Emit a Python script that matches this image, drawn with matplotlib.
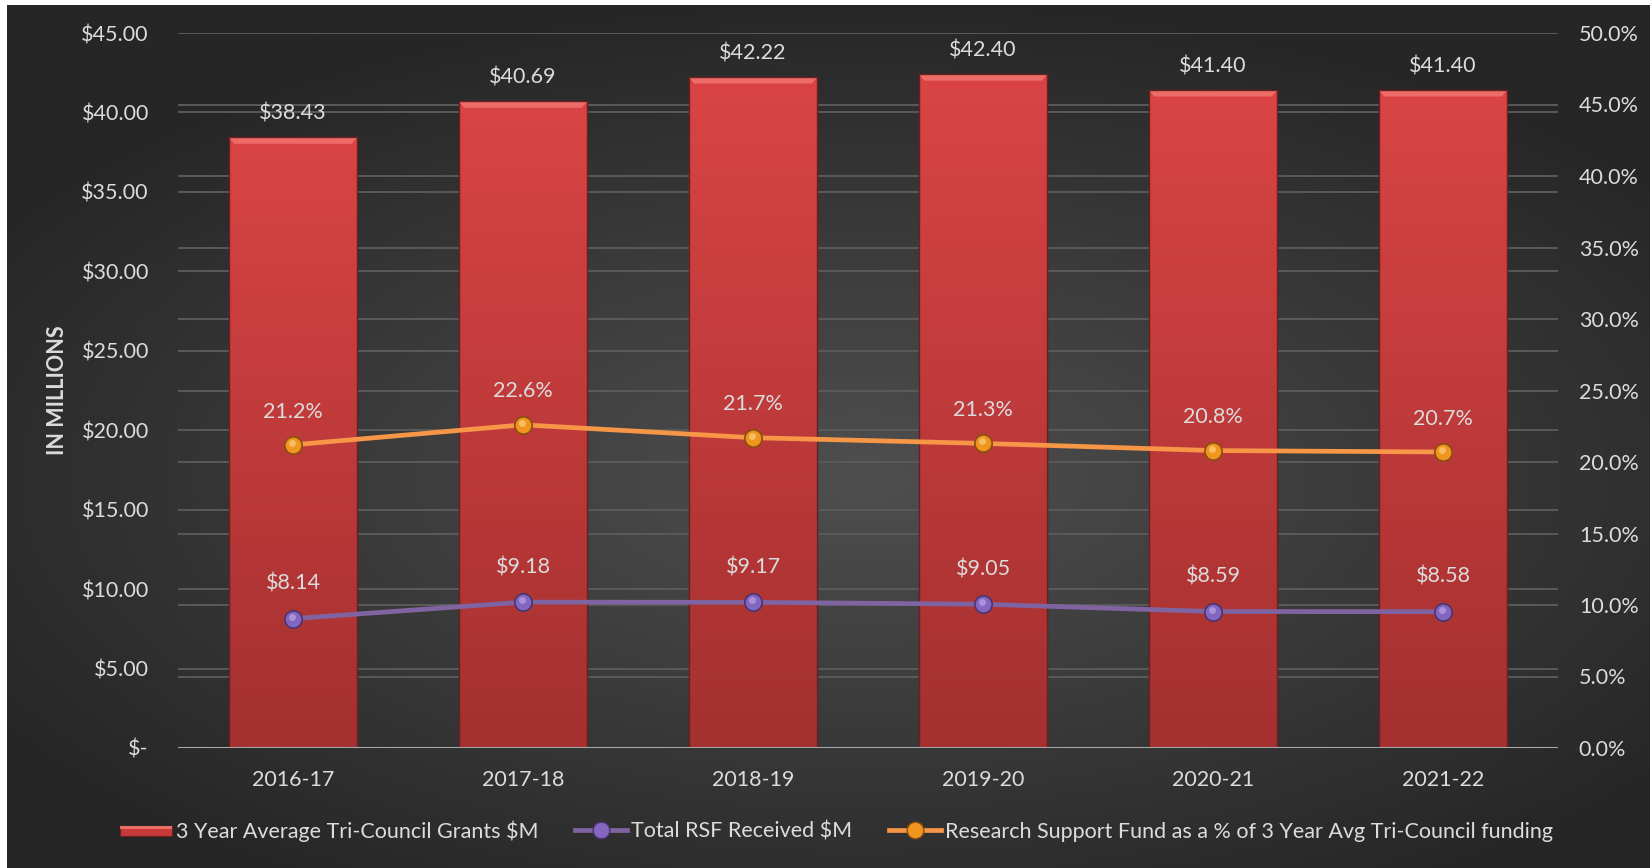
import numpy as np
import matplotlib
matplotlib.use("Agg")
import matplotlib.pyplot as plt
import matplotlib.transforms as mtransforms
from matplotlib.patches import Rectangle, Polygon
from matplotlib.lines import Line2D
from matplotlib.legend_handler import HandlerBase

# ---- data ----
categories = ["2016-17", "2017-18", "2018-19", "2019-20", "2020-21", "2021-22"]
grants = [38.43, 40.69, 42.22, 42.40, 41.40, 41.40]
rsf = [8.14, 9.18, 9.17, 9.05, 8.59, 8.58]
pct = [21.2, 22.6, 21.7, 21.3, 20.8, 20.7]
left_ticks = [0, 5, 10, 15, 20, 25, 30, 35, 40, 45]
right_ticks = [0, 5, 10, 15, 20, 25, 30, 35, 40, 45, 50]
series_names = ["3 Year Average Tri-Council Grants $M", "Total RSF Received $M",
                "Research Support Fund as a % of 3 Year Avg Tri-Council funding"]

plt.rcParams['font.family'] = ['Lato', 'DejaVu Sans']
TXT = '#dcdcdc'
FS = 15.5
W, H = 1650, 868
fig = plt.figure(figsize=(W / 100, H / 100), dpi=100)
fig.patch.set_facecolor('white')

# background radial gradient
bg = fig.add_axes([7 / W, 0, 1 - 7 / W, 1 - 5 / H])
bg.set_axis_off()
yy, xx = np.mgrid[0:400, 0:800]
cx, cy = 0.52, 0.45
r = np.sqrt(((xx / 800 - cx) / 1.0) ** 2 + ((yy / 400 - cy) / 0.9) ** 2)
t = np.clip(r / 0.62, 0, 1)
c0, c1 = 0x4f, 0x26
g = (c0 + (c1 - c0) * t) / 255.0
img = np.dstack([g, g, g])
bg.imshow(img, aspect='auto', extent=[0, 1, 0, 1], origin='lower')
bg.set_xlim(0, 1)
bg.set_ylim(0, 1)

L, R, T, B = 178, 1558, 33, 748
ax = fig.add_axes([L / W, 1 - B / H, (R - L) / W, (B - T) / H])
ax.patch.set_alpha(0)
ax2 = ax.twinx()
ax2.patch.set_alpha(0)

x = np.arange(len(categories))
ax.set_xlim(-0.5, len(categories) - 0.5)
ax.set_ylim(0, 45)
ax2.set_ylim(0, 50)

# gridlines (both axes), all behind bars
GC = '#5a5a5a'
for v in left_ticks[1:]:
    ax.axhline(v, color=GC, lw=1.4, zorder=0.5)
tr2 = mtransforms.blended_transform_factory(ax.transAxes, ax2.transData)
for v in right_ticks[1:]:
    ax.plot([0, 1], [v, v], transform=tr2, color=GC, lw=1.4, zorder=0.5)

# bars
bars = ax.bar(x, grants, width=0.56, color='#c83a3a', edgecolor='#5a1a1a', lw=0.8, zorder=2)
grad = np.linspace(0, 1, 256).reshape(-1, 1)
top_c = np.array([0xda, 0x44, 0x44]) / 255
bot_c = np.array([0xa4, 0x30, 0x30]) / 255
gimg = top_c * (1 - grad[..., None]) + bot_c * grad[..., None]
gimg = gimg[::-1]
for b in bars:
    x0, y0, w, h = b.get_x(), b.get_y(), b.get_width(), b.get_height()
    im = ax.imshow(gimg, extent=[x0, x0 + w, y0, y0 + h], origin='lower',
                   aspect='auto', zorder=2.1)
    im.set_clip_path(b)
    bh = 0.4
    bw = 0.025
    ax.add_patch(Polygon([[x0, y0 + h], [x0 + w, y0 + h], [x0 + w - bw, y0 + h - bh],
                          [x0 + bw, y0 + h - bh]], closed=True, facecolor='#ee6c68',
                         edgecolor='none', zorder=2.2))
    ax.add_patch(Rectangle((x0, y0), w, h, fill=False, edgecolor='#6a2020', lw=1.0, zorder=2.3))
    ax.annotate(f"${b.get_height():.2f}", (x0 + w / 2, y0 + h), xytext=(0, 17),
                textcoords='offset points', ha='center', va='center', color=TXT,
                fontsize=FS, zorder=5)

ax.set_xticks(x)
ax.set_xticklabels(categories)
ax.set_xlim(-0.5, len(categories) - 0.5)
ax.set_ylim(0, 45)

ax.axhline(0, color='#a8a8a8', lw=2.2, zorder=3)


def sphere(axis, xs, ys, col, edge, hi, z):
    axis.plot(xs, ys, 'o', ms=12.5, mfc=col, mec=edge, mew=1.2, zorder=z, ls='none')
    off = mtransforms.ScaledTranslation(-1 / 100, 2 / 100, fig.dpi_scale_trans)
    axis.plot(xs, ys, 'o', ms=5, mfc=hi, mec='none', alpha=0.55, zorder=z + 0.1, ls='none',
              transform=axis.transData + off)


ax.plot(x, rsf, color='#8064a2', lw=3.4, zorder=4)
sphere(ax, x, rsf, '#8466c0', '#4a3470', '#c8b8f0', 4.5)
for xi, v in zip(x, rsf):
    ax.annotate(f"${v:.2f}", (xi, v), xytext=(0, 25), textcoords='offset points',
                ha='center', va='center', color=TXT, fontsize=FS, zorder=5)

ax2.plot(x, pct, color='#f79646', lw=3.4, zorder=4)
sphere(ax2, x, pct, '#f0951e', '#8a4e10', '#ffe0a0', 4.5)
for xi, v in zip(x, pct):
    ax2.annotate(f"{v:.1f}%", (xi, v), xytext=(0, 24), textcoords='offset points',
                 ha='center', va='center', color=TXT, fontsize=FS, zorder=5)

ax.set_yticks(left_ticks)
ax.set_yticklabels(["$-"] + [f"${v:.2f}" for v in left_ticks[1:]])
ax2.set_yticks(right_ticks)
ax2.set_yticklabels([f"{v:.1f}%" for v in right_ticks])
for a in (ax, ax2):
    for s in a.spines.values():
        s.set_visible(False)
ax.tick_params(axis='y', length=0, pad=21, labelcolor=TXT, labelsize=FS)
ax2.tick_params(axis='y', length=0, pad=15, labelcolor=TXT, labelsize=FS)
ax.tick_params(axis='x', length=0, pad=16, labelcolor=TXT, labelsize=FS)
ax.set_ylabel("IN MILLIONS", color=TXT, fontsize=FS, fontweight='bold')
ax.yaxis.set_label_coords((68 - L) / (R - L), 0.5)


class BarHandler(HandlerBase):
    def create_artists(self, legend, orig, xd, yd, width, height, fontsize, trans):
        r1 = Rectangle((xd, yd + height * 0.1), width, height * 0.7, facecolor='#c83a3a',
                       edgecolor='#6a2020', lw=0.8, transform=trans)
        r2 = Rectangle((xd, yd + height * 0.55), width, height * 0.25, facecolor='#ee6c68',
                       edgecolor='none', transform=trans)
        return [r1, r2]


h_bar = Rectangle((0, 0), 1, 1)
h_rsf = Line2D([], [], color='#8064a2', lw=3.4, marker='o', ms=12, mfc='#8466c0', mec='#4a3470')
h_pct = Line2D([], [], color='#f79646', lw=3.4, marker='o', ms=12, mfc='#f0951e', mec='#8a4e10')
leg = fig.legend([h_bar, h_rsf, h_pct], series_names, loc='center', ncol=3,
                 bbox_to_anchor=(0.507, 1 - 831 / H), frameon=False, fontsize=FS,
                 labelcolor=TXT, handlelength=2.4, handletextpad=0.2, columnspacing=1.7,
                 handler_map={Rectangle: BarHandler()})

fig.savefig("out.png", dpi=100, facecolor=fig.get_facecolor())
